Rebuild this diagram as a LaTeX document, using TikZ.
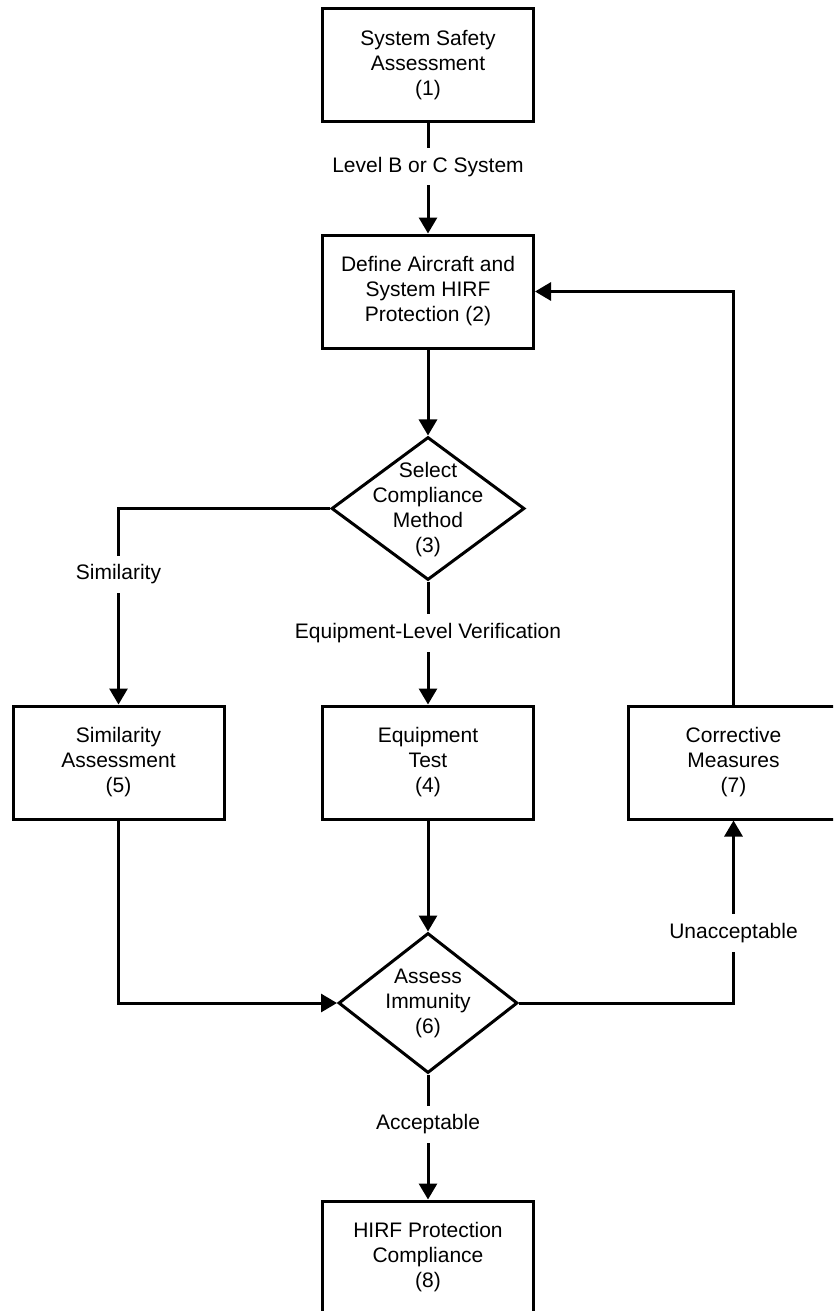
\documentclass[tikz,border=0pt]{standalone}
\usepackage{fontspec}
\setmainfont{Liberation Sans}
\usetikzlibrary{shapes.geometric,arrows.meta}
\begin{document}
\begin{tikzpicture}[x=1pt,y=-1pt,
  font=\fontsize{21}{25}\selectfont,
  line width=3pt,
  procbox/.style={draw, rectangle, minimum width=211pt, minimum height=113pt, inner sep=0pt, align=center},
  decbox/.style={draw, diamond, inner sep=0pt},
  dtext/.style={align=center, inner sep=0pt},
  lbl/.style={fill=white, inner sep=9pt, align=center},
  arr/.style={-{Triangle[length=16pt,width=18pt]}},
  ln/.style={}
]
\useasboundingbox (0,0) rectangle (833,1311);
\clip (0,0) rectangle (833,1311);

\node[procbox] (b1) at (428,65) {System Safety\\Assessment\\(1)};
\node[procbox] (b2) at (428,291.5) {Define Aircraft and\\System HIRF\\Protection (2)};
\node[decbox, minimum width=193pt, minimum height=143pt] (d3) at (428,508.5) {};
\node[dtext] (t3) at (428,510) {Select\\Compliance\\Method\\(3)};
\node[procbox] (b5) at (118.5,762.5) {Similarity\\Assessment\\(5)};
\node[procbox] (b4) at (428,762.5) {Equipment\\Test\\(4)};
\node[procbox] (b7) at (733.5,762.5) {Corrective\\Measures\\(7)};
\node[decbox, minimum width=179pt, minimum height=140pt] (d6) at (428,1003) {};
\node[dtext] (t6) at (428,1003) {Assess\\Immunity\\(6)};
\node[procbox] (b8) at (428,1257.5) {HIRF Protection\\Compliance\\(8)};

\draw[arr] (b1) -- node[lbl, pos=0.395] {Level B or C System} (b2);
\draw[arr] (b2) -- (d3);
\draw[arr] (d3.west) -| node[lbl, pos=0.668] {Similarity} (b5.north);
\draw[arr] (d3.south) -- node[lbl, pos=0.42] {Equipment-Level Verification} (b4.north);
\draw[arr] (b5.south) |- (d6.west);
\draw[arr] (b4.south) -- (d6.north);
\draw[arr] (d6.east) -| node[lbl, pos=0.692] {Unacceptable} (b7.south);
\draw[arr] (b7.north) |- (b2.east);
\draw[arr] (d6.south) -- node[lbl, pos=0.40] {Acceptable} (b8.north);
\end{tikzpicture}
\end{document}
